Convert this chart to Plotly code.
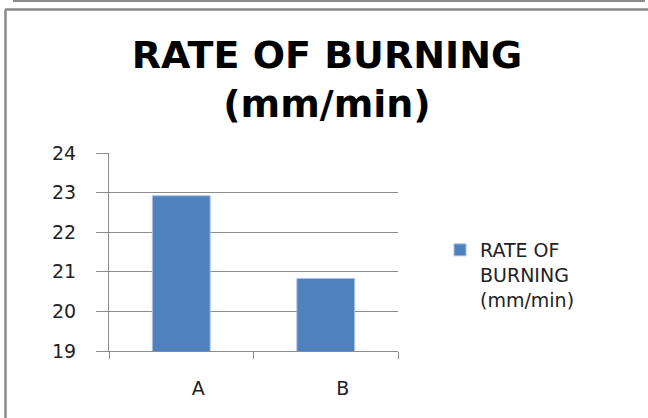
import plotly.graph_objects as go

categories = ["A", "B"]
rate_values = [22.92, 20.83]
series_name = "RATE OF<br>BURNING<br>(mm/min)"
title_text = "RATE OF BURNING<br>(mm/min)"
y_ticks = [19, 20, 21, 22, 23, 24]

W, H = 648, 418
L, R, T, B = 109, 250, 153, 67
pw, ph = W - L - R, H - T - B

def px_x(x):
    return (x - L) / pw

def px_y(y):
    return (H - B - y) / ph

grey = "#8c8c8c"
fig = go.Figure()
fig.add_trace(go.Bar(
    x=categories, y=rate_values, name=series_name, width=0.4,
    marker=dict(color="#4F81BD", line=dict(color="#a9c1e2", width=1)),
    showlegend=True,
))

fig.update_layout(
    width=W, height=H,
    margin=dict(l=L, r=R, t=T, b=B),
    paper_bgcolor="white", plot_bgcolor="white",
    title=dict(text=title_text, x=327 / W, xanchor="center", y=1 - 68 / H, yanchor="top",
               font=dict(family="DejaVu Sans", size=38, color="black", weight="bold")),
    showlegend=True,
    legend=dict(x=px_x(440), xanchor="left", y=px_y(231), yanchor="top", valign="top",
                font=dict(family="DejaVu Sans", size=19, color="#222222"),
                bgcolor="rgba(0,0,0,0)", itemwidth=30),
    xaxis=dict(type="category", range=[-0.5, 1.5], showline=True, linecolor=grey, linewidth=1,
               ticks="outside", tickson="boundaries", ticklen=7, tickcolor=grey,
               ticklabelshift=17, ticklabelstandoff=20, showgrid=False,
               tickfont=dict(family="DejaVu Sans", size=19, color="#222222")),
    yaxis=dict(range=[19, 24], tickvals=y_ticks, showline=True, linecolor=grey, linewidth=1,
               ticks="outside", ticklen=12, tickcolor=grey, showgrid=True, gridcolor=grey,
               gridwidth=1, zeroline=False, ticklabelstandoff=16,
               tickfont=dict(family="DejaVu Sans", size=19, color="#222222")),
    shapes=[
        dict(type="line", xref="paper", yref="paper", x0=px_x(13), x1=px_x(645), y0=px_y(1), y1=px_y(1),
             line=dict(color="#8a8a8a", width=2)),
        dict(type="line", xref="paper", yref="paper", x0=px_x(5), x1=px_x(648), y0=px_y(9.5), y1=px_y(9.5),
             line=dict(color="#8a8a8a", width=2.5)),
        dict(type="line", xref="paper", yref="paper", x0=px_x(5.5), x1=px_x(5.5), y0=px_y(9.5), y1=px_y(418),
             line=dict(color="#8a8a8a", width=2.5)),
    ],
)

fig.write_html("out.html", config={"displayModeBar": False},
               post_script="document.body.style.margin='0';")
